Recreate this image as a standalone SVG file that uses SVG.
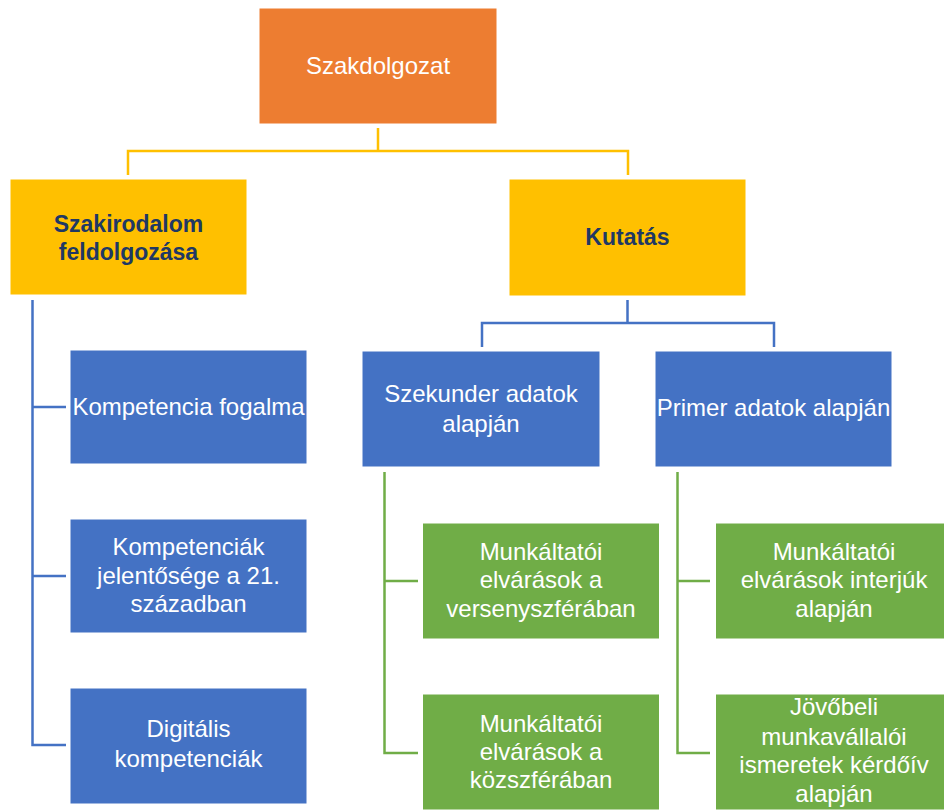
<svg xmlns="http://www.w3.org/2000/svg" width="944" height="811" viewBox="0 0 944 811">
<style>
.box{stroke:#ffffff;stroke-width:1}
.o{fill:#ED7D31}.y{fill:#FFC000}.b{fill:#4472C4}.g{fill:#70AD47}
text{font-family:"Liberation Sans",Arial,sans-serif;font-size:24px;fill:#ffffff;text-anchor:middle}
text.h{font-weight:bold;fill:#203864;font-size:23px}
.c{fill:none;stroke-width:2.5}
.cy{stroke:#FFC000}.cb{stroke:#4472C4}.cg{stroke:#70AD47}
</style>
<rect width="944" height="811" fill="#ffffff"/>
<g id="connectors">
<path class="c cy" d="M378,128 V151 M128,175 V151 H628 V175"/>
<path class="c cb" d="M627.5,300 V323 M482,347 V323 H774 V347"/>
<path class="c cb" d="M32.5,300 V745 H66 M32.5,407 H66 M32.5,576 H66"/>
<path class="c cg" d="M384.5,472 V753 H418 M384.5,581 H418"/>
<path class="c cg" d="M677.5,472 V753 H710 M677.5,581 H710"/>
</g>
<g id="n-szakdolgozat"><rect class="box o" x="259" y="8" width="238" height="116"/><text x="378" y="74">Szakdolgozat</text></g>
<g id="n-szakirodalom"><rect class="box y" x="10" y="179" width="237" height="116"/><text class="h" x="128.5" y="232">Szakirodalom</text><text class="h" x="128.5" y="260">feldolgozása</text></g>
<g id="n-kutatas"><rect class="box y" x="509" y="179" width="237" height="117"/><text class="h" x="627.5" y="245">Kutatás</text></g>
<g id="n-kompetencia"><rect class="box b" x="70" y="350" width="237" height="114"/><text x="188.5" y="415">Kompetencia fogalma</text></g>
<g id="n-kompetenciak"><rect class="box b" x="70" y="519" width="237" height="114"/><text x="188.5" y="555">Kompetenciák</text><text x="188.5" y="584">jelentősége a 21.</text><text x="188.5" y="612">században</text></g>
<g id="n-digitalis"><rect class="box b" x="70" y="688" width="237" height="116"/><text x="188.5" y="737">Digitális</text><text x="188.5" y="767">kompetenciák</text></g>
<g id="n-szekunder"><rect class="box b" x="362" y="351" width="238" height="116"/><text x="481" y="402">Szekunder adatok</text><text x="481" y="432">alapján</text></g>
<g id="n-primer"><rect class="box b" x="655" y="351" width="237" height="116"/><text x="773.5" y="416">Primer adatok alapján</text></g>
<g id="n-verseny"><rect class="box g" x="422.5" y="523" width="237" height="116"/><text x="541" y="560">Munkáltatói</text><text x="541" y="588">elvárások a</text><text x="541" y="617">versenyszférában</text></g>
<g id="n-kozszfera"><rect class="box g" x="422.5" y="694" width="237" height="116"/><text x="541" y="732">Munkáltatói</text><text x="541" y="760">elvárások a</text><text x="541" y="788">közszférában</text></g>
<g id="n-interju"><rect class="box g" x="715.5" y="523" width="237" height="116"/><text x="834" y="560">Munkáltatói</text><text x="834" y="588">elvárások interjúk</text><text x="834" y="617">alapján</text></g>
<g id="n-kerdoiv"><rect class="box g" x="715.5" y="694" width="237" height="116"/><text x="834" y="715">Jövőbeli</text><text x="834" y="745">munkavállalói</text><text x="834" y="773">ismeretek kérdőív</text><text x="834" y="802">alapján</text></g>
</svg>
